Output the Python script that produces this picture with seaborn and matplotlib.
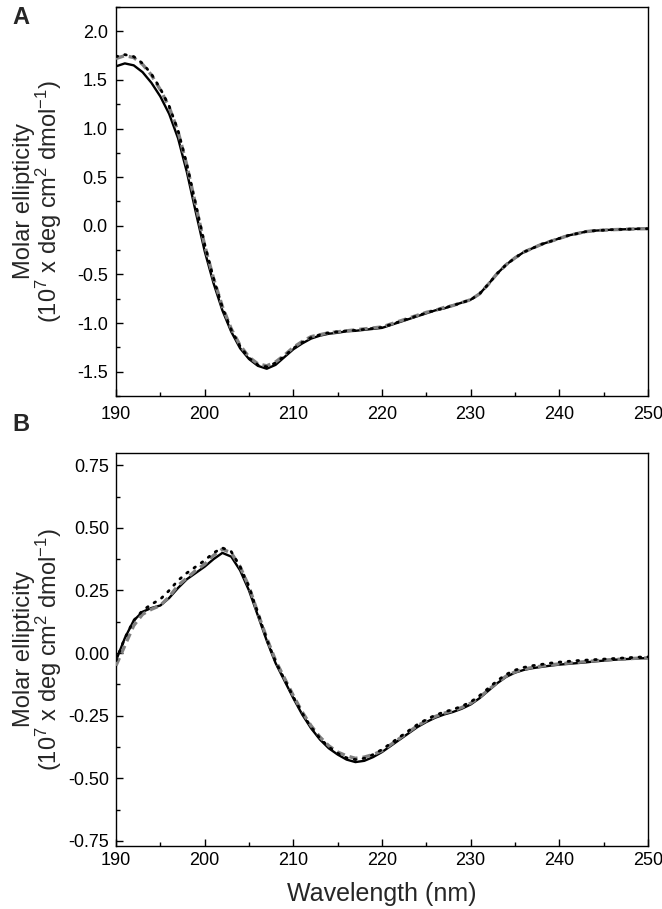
import numpy as np
import pandas as pd
import matplotlib
matplotlib.use("Agg")
import matplotlib.pyplot as plt
import seaborn as sns
from matplotlib.ticker import MultipleLocator, FormatStrFormatter

# ------------------------------------------------------------------
# DATA (1 nm steps)
# ------------------------------------------------------------------

wavelength = list(range(190, 251))

# Panel A
a_solid = [1.64, 1.67, 1.65, 1.58, 1.47, 1.33, 1.15, 0.90, 0.55, 0.14,
           -0.26, -0.59, -0.87, -1.09, -1.26, -1.37, -1.44, -1.47, -1.43, -1.35,
           -1.27, -1.21, -1.16, -1.13, -1.11, -1.10, -1.085, -1.08, -1.07, -1.06,
           -1.05, -1.02, -0.99, -0.96, -0.93, -0.90, -0.87, -0.85, -0.82, -0.79,
           -0.76, -0.70, -0.60, -0.49, -0.40, -0.33, -0.27, -0.23, -0.19, -0.16,
           -0.13, -0.10, -0.08, -0.06, -0.05, -0.045, -0.04, -0.037, -0.034, -0.031,
           -0.03]
a_dashed = [1.72, 1.75, 1.73, 1.66, 1.55, 1.40, 1.22, 0.97, 0.62, 0.21,
            -0.20, -0.54, -0.83, -1.06, -1.23, -1.35, -1.42, -1.44, -1.40, -1.33,
            -1.25, -1.19, -1.14, -1.12, -1.10, -1.09, -1.08, -1.07, -1.06, -1.05,
            -1.04, -1.01, -0.98, -0.95, -0.92, -0.89, -0.87, -0.84, -0.82, -0.79,
            -0.76, -0.70, -0.60, -0.49, -0.40, -0.33, -0.27, -0.23, -0.19, -0.16,
            -0.13, -0.10, -0.08, -0.06, -0.05, -0.045, -0.04, -0.037, -0.034, -0.031,
            -0.03]
a_dotted = [1.74, 1.76, 1.74, 1.67, 1.56, 1.41, 1.23, 0.98, 0.63, 0.22,
            -0.19, -0.54, -0.84, -1.07, -1.24, -1.36, -1.43, -1.45, -1.41, -1.34,
            -1.26, -1.20, -1.15, -1.12, -1.10, -1.09, -1.08, -1.075, -1.065, -1.055,
            -1.045, -1.015, -0.985, -0.955, -0.925, -0.895, -0.87, -0.845, -0.82, -0.79,
            -0.76, -0.70, -0.60, -0.49, -0.40, -0.33, -0.27, -0.23, -0.19, -0.16,
            -0.13, -0.10, -0.08, -0.06, -0.05, -0.045, -0.04, -0.037, -0.034, -0.031,
            -0.03]

# Panel B
b_solid = [-0.03, 0.06, 0.13, 0.165, 0.18, 0.19, 0.22, 0.26, 0.295, 0.32,
           0.345, 0.375, 0.40, 0.385, 0.33, 0.25, 0.15, 0.05, -0.04, -0.11,
           -0.18, -0.245, -0.30, -0.345, -0.38, -0.405, -0.425, -0.435, -0.43, -0.415,
           -0.395, -0.37, -0.345, -0.32, -0.295, -0.275, -0.258, -0.245, -0.235, -0.222,
           -0.205, -0.18, -0.15, -0.12, -0.095, -0.078, -0.067, -0.06, -0.055, -0.05,
           -0.046, -0.043, -0.04, -0.037, -0.033, -0.03, -0.027, -0.025, -0.023, -0.021,
           -0.02]
b_dashed = [-0.05, 0.03, 0.11, 0.155, 0.175, 0.19, 0.225, 0.27, 0.30, 0.33,
            0.355, 0.39, 0.415, 0.40, 0.345, 0.265, 0.16, 0.06, -0.03, -0.10,
            -0.17, -0.235, -0.29, -0.335, -0.37, -0.395, -0.41, -0.42, -0.415, -0.405,
            -0.39, -0.365, -0.34, -0.315, -0.29, -0.27, -0.253, -0.24, -0.23, -0.217,
            -0.20, -0.176, -0.147, -0.117, -0.092, -0.075, -0.064, -0.057, -0.052, -0.047,
            -0.043, -0.04, -0.037, -0.034, -0.031, -0.028, -0.026, -0.024, -0.022, -0.02,
            -0.019]
b_dotted = [-0.03, 0.06, 0.13, 0.17, 0.195, 0.215, 0.25, 0.29, 0.32, 0.345,
            0.37, 0.40, 0.42, 0.405, 0.345, 0.265, 0.16, 0.055, -0.035, -0.105,
            -0.175, -0.24, -0.295, -0.34, -0.375, -0.40, -0.418, -0.425, -0.42, -0.405,
            -0.385, -0.36, -0.335, -0.31, -0.285, -0.265, -0.248, -0.235, -0.225, -0.212,
            -0.195, -0.17, -0.14, -0.11, -0.085, -0.068, -0.057, -0.05, -0.045, -0.04,
            -0.036, -0.033, -0.03, -0.028, -0.026, -0.024, -0.022, -0.02, -0.018, -0.016,
            -0.015]

A_YTICKS = [-1.5, -1.0, -0.5, 0.0, 0.5, 1.0, 1.5, 2.0]
B_YTICKS = [-0.75, -0.50, -0.25, 0.00, 0.25, 0.50, 0.75]
X_TICKS = [190, 200, 210, 220, 230, 240, 250]

YLABEL = "Molar ellipticity\n(10$^7$ x deg cm$^2$ dmol$^{-1}$)"

# ------------------------------------------------------------------
# STYLE
# ------------------------------------------------------------------

sns.set_style("ticks")
plt.rcParams.update({
    "font.family": ["Liberation Sans", "DejaVu Sans"],
    "mathtext.fontset": "custom",
    "mathtext.rm": "Liberation Sans",
    "mathtext.it": "Liberation Sans:italic",
    "mathtext.bf": "Liberation Sans:bold",
    "axes.unicode_minus": False,
    "axes.edgecolor": "black",
    "axes.linewidth": 1.0,
    "xtick.color": "black",
    "ytick.color": "black",
})


def draw_panel(ax, solid, dashed, dotted):
    df = pd.DataFrame({"wl": wavelength, "solid": solid,
                       "dashed": dashed, "dotted": dotted})
    sns.lineplot(data=df, x="wl", y="solid", ax=ax, color="black",
                 linewidth=1.7, zorder=3)
    sns.lineplot(data=df, x="wl", y="dashed", ax=ax, color="#808080",
                 linewidth=2.4, linestyle=(0, (2.5, 1.5)), zorder=4)
    sns.lineplot(data=df, x="wl", y="dotted", ax=ax, color="black",
                 linewidth=2.0, linestyle=(0, (0.6, 2.6)),
                 dash_capstyle="round", zorder=5)
    ax.set_xlim(190, 250)
    ax.set_xticks(X_TICKS)
    ax.xaxis.set_minor_locator(MultipleLocator(5))
    ax.tick_params(which="both", direction="in", labelsize=13,
                   top=False, right=False)
    ax.tick_params(which="major", length=5, width=1.0)
    ax.tick_params(which="minor", length=3, width=1.0)
    for s in ax.spines.values():
        s.set_visible(True)
        s.set_linewidth(1.0)
    ax.set_ylabel(YLABEL, fontsize=17, linespacing=0.95)
    ax.yaxis.set_label_coords(-0.097, 0.5)
    ax.set_xlabel("")


fig = plt.figure(figsize=(6.62, 9.09), dpi=100)

ax_a = fig.add_axes([0.1752, 0.5644, 0.8037, 0.4279])
draw_panel(ax_a, a_solid, a_dashed, a_dotted)
ax_a.set_ylim(-1.75, 2.25)
ax_a.set_yticks(A_YTICKS)
ax_a.yaxis.set_minor_locator(MultipleLocator(0.25))
ax_a.yaxis.set_major_formatter(FormatStrFormatter("%.1f"))
ax_a.tick_params(axis="x", pad=7)
ax_a.tick_params(axis="y", pad=6)

ax_b = fig.add_axes([0.1752, 0.0693, 0.8037, 0.4327])
draw_panel(ax_b, b_solid, b_dashed, b_dotted)
ax_b.set_ylim(-0.77, 0.80)
ax_b.set_yticks(B_YTICKS)
ax_b.yaxis.set_minor_locator(MultipleLocator(0.125))
ax_b.yaxis.set_major_formatter(FormatStrFormatter("%.2f"))
ax_b.tick_params(axis="x", pad=4)
ax_b.tick_params(axis="y", pad=5)
ax_b.set_xlabel("Wavelength (nm)", fontsize=18, labelpad=10)

fig.text(0.018, 0.993, "A", fontsize=17, fontweight="bold", va="top", ha="left")
fig.text(0.018, 0.546, "B", fontsize=17, fontweight="bold", va="top", ha="left")

fig.savefig("out.png", dpi=100)
